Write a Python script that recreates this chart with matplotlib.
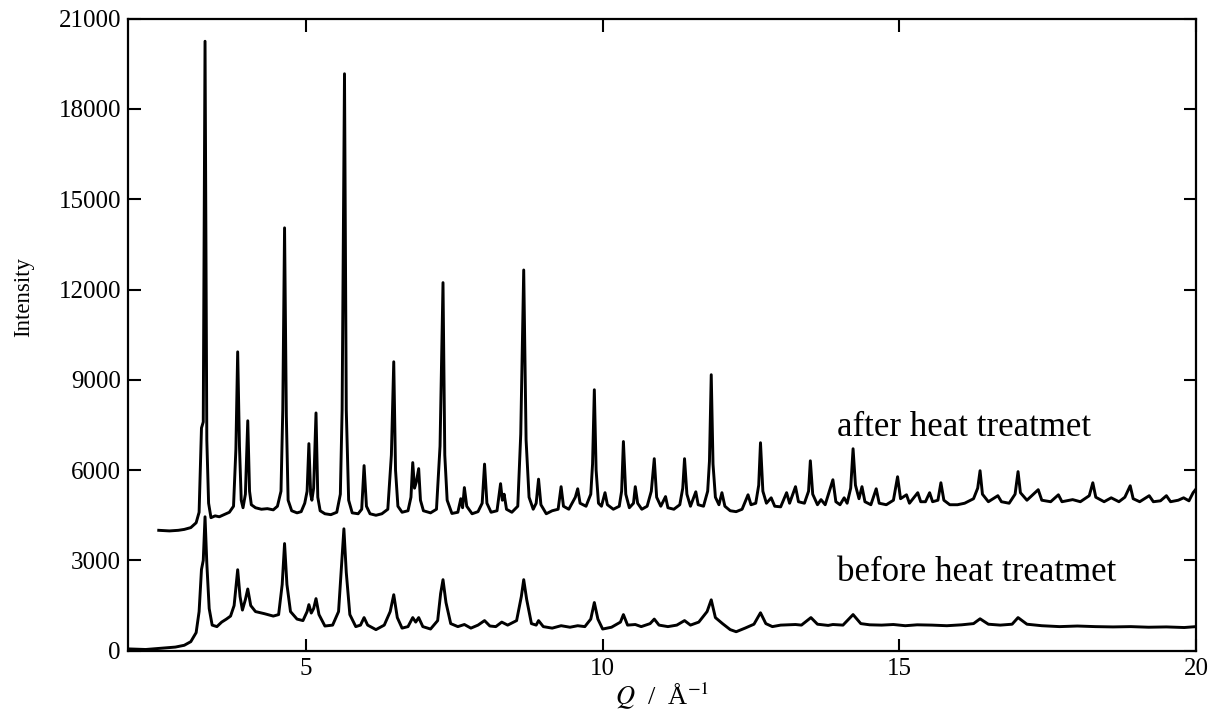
import matplotlib
matplotlib.use("Agg")
import matplotlib.pyplot as plt

plt.rcParams['font.family'] = ['Liberation Serif', 'DejaVu Serif']
plt.rcParams['mathtext.fontset'] = 'stix'

# after heat treatment (Q in 1/A)
after_q = [2.52, 2.70, 2.85, 2.95, 3.06, 3.15, 3.20, 3.24, 3.27, 3.30, 3.33, 3.36, 3.40, 3.47, 3.54,
           3.62, 3.71, 3.78, 3.82, 3.85, 3.88, 3.91, 3.94, 3.98, 4.02, 4.05, 4.08, 4.15, 4.25, 4.35,
           4.45, 4.52, 4.58, 4.61, 4.64, 4.67, 4.70, 4.76, 4.85, 4.92, 4.98, 5.02, 5.05, 5.08, 5.10,
           5.13, 5.17, 5.20, 5.24, 5.32, 5.42, 5.52, 5.58, 5.61, 5.65, 5.68, 5.72, 5.78, 5.88, 5.94,
           5.98, 6.02, 6.08, 6.18, 6.28, 6.38, 6.44, 6.48, 6.51, 6.55, 6.62, 6.72, 6.77, 6.80, 6.83,
           6.86, 6.90, 6.93, 6.98, 7.10, 7.20, 7.26, 7.31, 7.34, 7.38, 7.46, 7.56, 7.61, 7.64, 7.67,
           7.71, 7.80, 7.90, 7.97, 8.01, 8.05, 8.12, 8.22, 8.28, 8.31, 8.34, 8.38, 8.47, 8.57, 8.62,
           8.67, 8.71, 8.76, 8.83, 8.88, 8.92, 8.96, 9.05, 9.15, 9.25, 9.30, 9.34, 9.43, 9.50, 9.54,
           9.58, 9.62, 9.72, 9.80, 9.83, 9.86, 9.89, 9.93, 9.98, 10.04, 10.08, 10.18, 10.28, 10.32, 10.35,
           10.39, 10.45, 10.52, 10.55, 10.59, 10.66, 10.75, 10.82, 10.87, 10.91, 10.98, 11.06, 11.10, 11.20, 11.30,
           11.35, 11.38, 11.42, 11.48, 11.57, 11.61, 11.70, 11.77, 11.80, 11.83, 11.86, 11.90, 11.96, 12.01, 12.06,
           12.15, 12.25, 12.35, 12.45, 12.50, 12.58, 12.63, 12.66, 12.70, 12.76, 12.84, 12.90, 13.00, 13.10, 13.15,
           13.25, 13.30, 13.40, 13.47, 13.50, 13.54, 13.62, 13.68, 13.75, 13.88, 13.93, 14.00, 14.07, 14.12, 14.18,
           14.22, 14.26, 14.32, 14.37, 14.42, 14.52, 14.61, 14.66, 14.78, 14.90, 14.97, 15.02, 15.12, 15.17, 15.31,
           15.36, 15.44, 15.51, 15.56, 15.65, 15.70, 15.75, 15.85, 15.98, 16.10, 16.25, 16.32, 16.36, 16.40, 16.50,
           16.66, 16.72, 16.85, 16.95, 17.00, 17.04, 17.15, 17.34, 17.40, 17.55, 17.68, 17.74, 17.92, 18.05, 18.20,
           18.26, 18.31, 18.45, 18.57, 18.70, 18.80, 18.89, 18.94, 19.05, 19.21, 19.28, 19.40, 19.50, 19.57, 19.70,
           19.79, 19.88, 19.95, 19.99]
after_i = [4000, 3980, 4000, 4030, 4090, 4250, 4600, 7400, 7600, 20250, 7000, 4900, 4420, 4480, 4450,
           4520, 4600, 4800, 6700, 9930, 6800, 5000, 4750, 5200, 7640, 5300, 4850, 4750, 4700, 4720,
           4680, 4800, 5300, 8000, 14050, 7800, 5000, 4650, 4580, 4620, 4900, 5300, 6880, 5200, 5000,
           5400, 7900, 5100, 4650, 4550, 4520, 4600, 5200, 8000, 19170, 8000, 5000, 4580, 4550, 4700,
           6150, 4800, 4550, 4500, 4550, 4700, 6500, 9600, 6000, 4800, 4600, 4650, 5100, 6250, 5400,
           5600, 6050, 5000, 4650, 4580, 4700, 6800, 12230, 6500, 5000, 4560, 4600, 5050, 4750, 5420,
           4800, 4550, 4620, 4900, 6200, 4900, 4600, 4650, 5550, 5000, 5200, 4700, 4600, 4800, 7200,
           12650, 7000, 5100, 4700, 4900, 5700, 4850, 4550, 4650, 4700, 5450, 4800, 4700, 4950, 5100,
           5380, 4900, 4800, 5200, 6200, 8670, 6000, 4900, 4800, 5250, 4850, 4700, 4800, 5300, 6950,
           5200, 4750, 4900, 5450, 4900, 4700, 4800, 5300, 6380, 5100, 4800, 5120, 4750, 4700, 4850,
           5400, 6380, 5200, 4800, 5280, 4850, 4800, 5300, 6300, 9170, 6200, 5100, 4850, 5250, 4800,
           4650, 4620, 4700, 5180, 4850, 4900, 5500, 6910, 5300, 4900, 5080, 4800, 4780, 5250, 4900,
           5450, 4950, 4900, 5300, 6310, 5200, 4850, 5020, 4850, 5680, 4950, 4850, 5080, 4900, 5400,
           6710, 5500, 5050, 5450, 4950, 4850, 5380, 4900, 4850, 5000, 5780, 5050, 5180, 4900, 5250,
           4950, 4950, 5250, 4950, 5000, 5580, 5000, 4850, 4850, 4900, 5050, 5400, 5980, 5200, 4950,
           5150, 4950, 4900, 5200, 5950, 5250, 5000, 5350, 5000, 4950, 5180, 4950, 5020, 4950, 5150,
           5580, 5100, 4950, 5080, 4950, 5100, 5480, 5050, 4950, 5150, 4950, 4980, 5150, 4950, 5000,
           5080, 4980, 5250, 5350]

# before heat treatment
before_q = [2.00, 2.30, 2.55, 2.80, 2.95, 3.06, 3.15, 3.20, 3.24, 3.27, 3.30, 3.33, 3.37, 3.42, 3.50,
            3.58, 3.66, 3.73, 3.79, 3.85, 3.89, 3.93, 3.98, 4.02, 4.07, 4.15, 4.30, 4.45, 4.54, 4.60,
            4.64, 4.68, 4.74, 4.85, 4.95, 5.02, 5.05, 5.09, 5.13, 5.17, 5.22, 5.32, 5.45, 5.55, 5.60,
            5.64, 5.68, 5.74, 5.84, 5.92, 5.98, 6.04, 6.18, 6.32, 6.42, 6.48, 6.54, 6.62, 6.72, 6.80,
            6.85, 6.90, 6.97, 7.10, 7.22, 7.27, 7.31, 7.36, 7.44, 7.56, 7.67, 7.78, 7.90, 8.01, 8.10,
            8.20, 8.30, 8.40, 8.55, 8.63, 8.67, 8.72, 8.80, 8.88, 8.92, 9.00, 9.15, 9.30, 9.45, 9.58,
            9.70, 9.80, 9.86, 9.92, 10.00, 10.15, 10.30, 10.35, 10.42, 10.55, 10.65, 10.80, 10.87, 10.95, 11.10,
            11.25, 11.38, 11.48, 11.62, 11.76, 11.83, 11.90, 12.02, 12.15, 12.25, 12.40, 12.55, 12.66, 12.75, 12.86,
            13.00, 13.25, 13.35, 13.51, 13.62, 13.80, 13.88, 14.05, 14.22, 14.35, 14.50, 14.70, 14.90, 15.10, 15.30,
            15.55, 15.80, 16.05, 16.25, 16.36, 16.50, 16.70, 16.90, 17.00, 17.15, 17.40, 17.70, 18.00, 18.30, 18.60,
            18.90, 19.20, 19.50, 19.80, 20.00]
before_i = [60, 40, 80, 120, 180, 300, 600, 1300, 2700, 3000, 4450, 2900, 1400, 850, 800,
            950, 1050, 1150, 1500, 2690, 1800, 1350, 1700, 2050, 1500, 1300, 1230, 1150, 1200, 2200,
            3560, 2200, 1300, 1050, 1000, 1300, 1530, 1250, 1400, 1730, 1200, 820, 850, 1300, 2800,
            4050, 2600, 1200, 800, 850, 1100, 850, 700, 850, 1300, 1860, 1100, 750, 800, 1100,
            950, 1100, 800, 720, 1000, 1900, 2360, 1600, 900, 800, 870, 750, 850, 1000, 820,
            800, 950, 850, 1000, 1800, 2360, 1700, 900, 850, 1000, 800, 750, 830, 780, 830,
            800, 1050, 1600, 1050, 720, 780, 950, 1200, 850, 870, 800, 900, 1050, 850, 800,
            850, 1000, 850, 950, 1300, 1690, 1100, 900, 700, 630, 750, 880, 1260, 900, 800,
            850, 870, 850, 1100, 880, 840, 870, 850, 1200, 900, 860, 850, 870, 830, 860,
            850, 830, 860, 900, 1060, 880, 850, 880, 1100, 880, 830, 800, 820, 800, 790,
            800, 780, 790, 770, 800]

fig = plt.figure(figsize=(12.18, 7.19), dpi=100)
ax = fig.add_axes([0.105, 0.095, 0.877, 0.879])

ax.plot(after_q, after_i, color='black', lw=2.1)
ax.plot(before_q, before_i, color='black', lw=2.1)

ax.text(13.95, 7400, 'after heat treatmet', fontsize=25, va='center', ha='left')
ax.text(13.95, 2590, 'before heat treatmet', fontsize=25, va='center', ha='left')

ax.set_xlim(2, 20)
ax.set_ylim(0, 21000)
ax.set_xticks([5, 10, 15, 20])
ax.set_yticks(range(0, 21001, 3000))
ax.tick_params(direction='in', length=9, width=1.5, top=True, right=True, labelsize=18, pad=5)
for s in ax.spines.values():
    s.set_linewidth(1.6)

ax.set_xlabel(r'$Q$  /  Å$^{-1}$', fontsize=19, labelpad=0)
ax.set_ylabel('Intensity', fontsize=16.5)
ax.yaxis.set_label_coords(-0.088, 0.56)

plt.savefig('out.png', dpi=100)
